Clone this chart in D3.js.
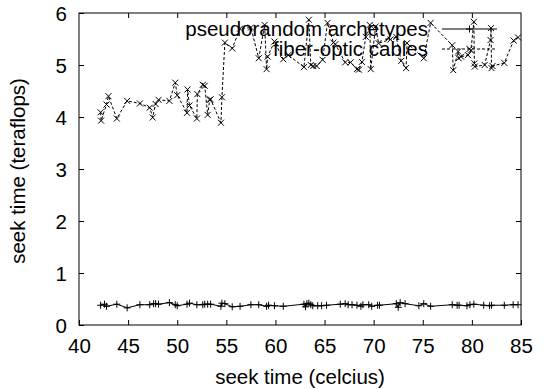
<!DOCTYPE html>
<html><head><meta charset="utf-8">
<script src="https://cdn.jsdelivr.net/npm/d3@7"></script>
<style>body{margin:0;background:#fff}svg{display:block}text{font-family:"Liberation Sans",Arial,sans-serif;font-size:20.5px;fill:#000}</style>
</head><body>
<script>
const xTicks = [40,45,50,55,60,65,70,75,80,85];
const yTicks = [0,1,2,3,4,5,6];
const seriesNames = ["pseudorandom archetypes","fiber-optic cables"];
const xLabel = "seek time (celcius)";
const yLabel = "seek time (teraflops)";

const pseudoX = [42.2,42.6,42.8,43.85,44.9,46.2,47.2,47.6,47.8,48.1,49.2,49.8,50.0,51.0,51.25,52.0,52.6,52.8,53.1,53.4,54.45,54.55,54.85,55.6,56.4,57.5,58.3,59.1,59.3,59.9,60.8,62.9,63.06,63.2,63.4,63.6,63.8,64.3,64.7,65.2,66.6,67.1,67.4,67.8,68.3,68.7,68.9,69.5,69.8,70.4,70.6,72.3,72.5,72.7,73.2,74.6,75.1,75.8,78.0,78.5,78.7,79.5,79.8,80.2,81.2,81.8,82.0,83.3,84.2,84.7];
const pseudoY = [0.38,0.40,0.36,0.40,0.33,0.39,0.39,0.41,0.41,0.40,0.43,0.39,0.37,0.40,0.42,0.39,0.39,0.40,0.40,0.40,0.36,0.42,0.41,0.35,0.36,0.39,0.39,0.36,0.38,0.37,0.36,0.40,0.35,0.41,0.42,0.39,0.37,0.37,0.37,0.38,0.40,0.41,0.39,0.39,0.38,0.36,0.39,0.39,0.36,0.38,0.38,0.41,0.34,0.43,0.41,0.37,0.41,0.36,0.39,0.38,0.38,0.37,0.39,0.40,0.38,0.37,0.38,0.38,0.39,0.39];

const fiberX = [42.2,42.25,42.8,43.0,43.85,44.9,46.2,47.2,47.5,47.8,48.1,49.2,49.8,50.0,51.0,51.05,51.25,52.0,52.05,52.6,52.8,53.1,53.3,53.4,54.45,54.55,54.85,55.6,56.4,57.5,58.3,58.9,59.1,59.2,59.9,60.8,61.3,62.9,63.4,63.6,63.85,64.2,64.8,65.3,65.9,66.1,67.1,67.65,68.3,68.5,68.8,69.2,69.6,69.7,70.2,70.5,71.7,72.3,72.8,73.3,73.4,75.1,75.8,78.0,78.1,78.6,78.65,78.9,79.6,79.9,80.2,80.25,80.3,81.3,81.9,81.95,82.0,82.1,83.3,84.25,84.7];
const fiberY = [4.09,3.93,4.24,4.40,3.97,4.31,4.26,4.18,3.99,4.25,4.33,4.31,4.66,4.42,4.08,4.53,4.22,3.97,4.44,4.62,4.60,4.04,4.33,4.34,3.89,4.38,5.43,5.32,5.70,5.72,5.13,5.77,4.92,5.16,5.45,5.11,5.19,4.96,5.87,5.00,4.98,4.98,5.10,5.81,5.43,5.40,5.05,5.05,4.92,4.91,5.06,5.54,5.77,4.92,5.74,5.42,5.49,5.54,5.08,4.94,5.42,5.13,5.81,5.38,4.90,5.26,5.13,5.16,5.19,5.28,5.83,5.03,4.97,5.00,5.48,5.71,4.94,4.98,5.04,5.47,5.53];

const W = 544, H = 389;
const m = {l:79, r:521, t:13, b:325};
const svg = d3.select("body").append("svg").attr("width",W).attr("height",H);
const x = d3.scaleLinear().domain([40,85]).range([m.l,m.r]);
const y = d3.scaleLinear().domain([0,6]).range([m.b,m.t]);

// axes with inward ticks
const gB = svg.append("g").attr("transform",`translate(0,${m.b})`)
  .call(d3.axisBottom(x).tickValues(xTicks).tickSize(-5).tickPadding(10).tickFormat(d3.format("d")));
const gT = svg.append("g").attr("transform",`translate(0,${m.t})`)
  .call(d3.axisTop(x).tickValues(xTicks.slice(1,-1)).tickSize(-5).tickFormat(""));
const gL = svg.append("g").attr("transform",`translate(${m.l},0)`)
  .call(d3.axisLeft(y).tickValues(yTicks).tickSize(-5).tickPadding(12).tickFormat(d3.format("d")));
const gR = svg.append("g").attr("transform",`translate(${m.r},0)`)
  .call(d3.axisRight(y).tickValues(yTicks.slice(1,-1)).tickSize(-5).tickFormat(""));
[gB,gT,gL,gR].forEach(g=>{
  g.select(".domain").remove();
  g.selectAll("line").attr("stroke","#000").attr("stroke-width",1);
  g.selectAll("text").attr("font-family",null).attr("font-size",null).attr("fill","#000");
});
gB.selectAll("text").attr("dy",null).attr("y",28);
gL.selectAll("text").attr("dy","0.36em").attr("x",-12);

svg.append("rect").attr("x",m.l).attr("y",m.t).attr("width",m.r-m.l).attr("height",m.b-m.t)
  .attr("fill","none").attr("stroke","#000").attr("stroke-width",1);

svg.append("text").attr("x",(m.l+m.r)/2).attr("y",384).attr("text-anchor","middle").text(xLabel);
svg.append("text").attr("transform",`translate(25,${(m.t+m.b)/2 + 2}) rotate(-90)`).attr("text-anchor","middle").text(yLabel);

const line = d3.line().x(d=>x(d[0])).y(d=>y(d[1]));
const pseudo = pseudoX.map((v,i)=>[v,pseudoY[i]]);
const fiber = fiberX.map((v,i)=>[v,fiberY[i]]);

function plus(g,cx,cy){ g.append("path").attr("d",`M${cx-3.5},${cy}H${cx+3.5}M${cx},${cy-3.5}V${cy+3.5}`).attr("stroke","#000").attr("stroke-width",1).attr("fill","none"); }
function cross(g,cx,cy){ g.append("path").attr("d",`M${cx-3},${cy-3}L${cx+3},${cy+3}M${cx-3},${cy+3}L${cx+3},${cy-3}`).attr("stroke","#000").attr("stroke-width",1).attr("fill","none"); }

const gP = svg.append("g");
gP.append("path").attr("d",line(pseudo)).attr("fill","none").attr("stroke","#000").attr("stroke-width",1);
pseudo.forEach(d=>plus(gP,x(d[0]),y(d[1])));

const gF = svg.append("g");
gF.append("path").attr("d",line(fiber)).attr("fill","none").attr("stroke","#000").attr("stroke-width",1).attr("stroke-dasharray","3,2");
fiber.forEach(d=>cross(gF,x(d[0]),y(d[1])));

// legend
const lg = svg.append("g");
const rows = [{y:29,dash:null,mk:plus},{y:49,dash:"3,2",mk:cross}];
rows.forEach((r,i)=>{
  lg.append("text").attr("x",428).attr("y",r.y).attr("dy","0.35em").attr("text-anchor","end").text(seriesNames[i]);
  lg.append("line").attr("x1",442).attr("x2",497).attr("y1",r.y).attr("y2",r.y).attr("stroke","#000").attr("stroke-width",1).attr("stroke-dasharray",r.dash);
  r.mk(lg,469.5,r.y);
});
</script>
</body></html>
